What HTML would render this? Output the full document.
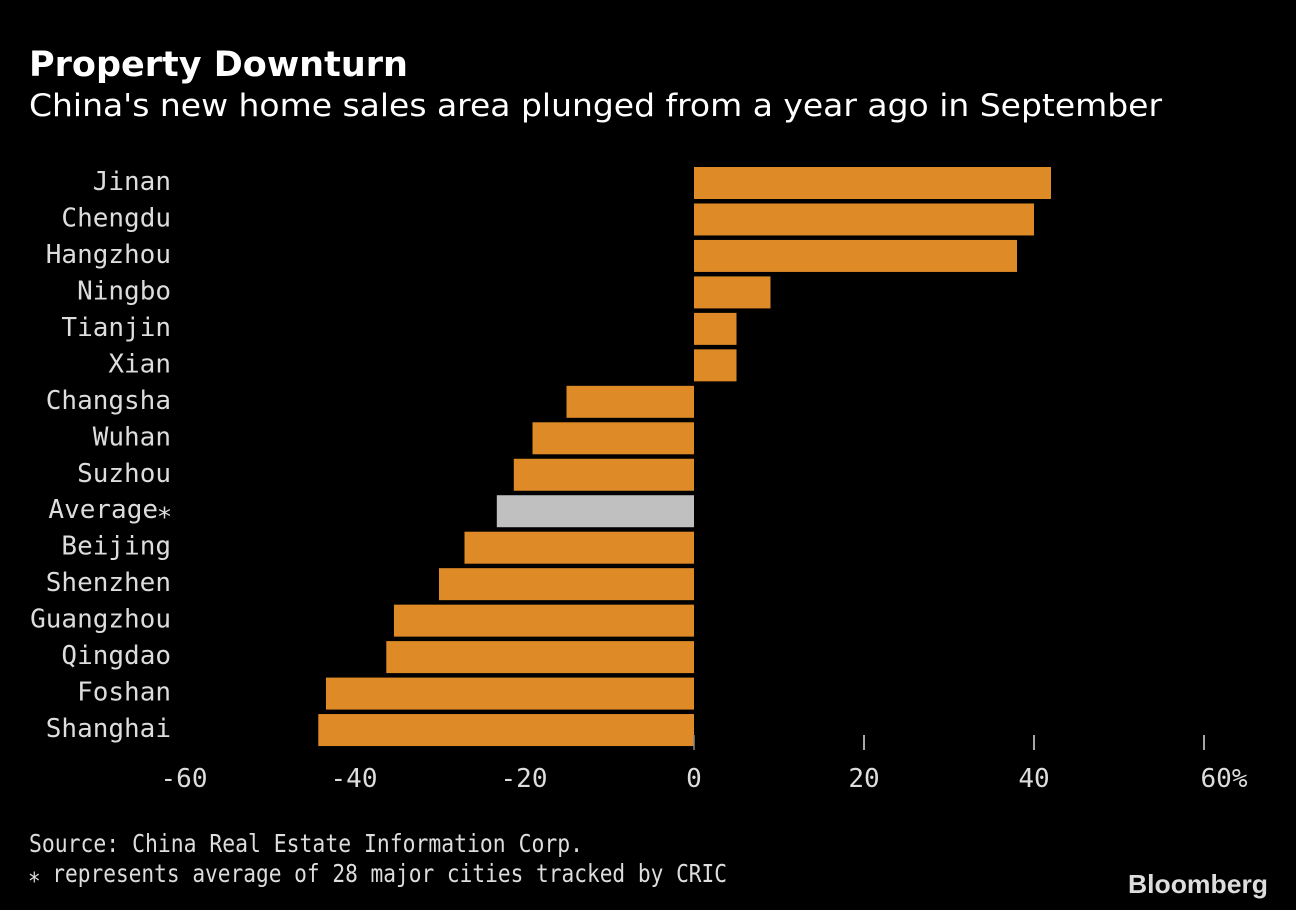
<!DOCTYPE html>
<html><head><meta charset="utf-8"><style>
html,body{margin:0;padding:0;background:#000;}
svg{display:block;font-family:"DejaVu Sans Mono","Liberation Mono",monospace;}
</style></head><body>
<svg width="1296" height="910" viewBox="0 0 1296 910">
<rect width="1296" height="910" fill="#000"/>
<text x="29" y="76" fill="#fff" font-size="35" font-weight="bold" font-family="DejaVu Sans, Liberation Sans, sans-serif">Property Downturn</text>
<text x="29" y="116" fill="#fff" font-size="31" textLength="1133" lengthAdjust="spacingAndGlyphs" font-family="DejaVu Sans, Liberation Sans, sans-serif">China's new home sales area plunged from a year ago in September</text>
<g id="bars"></g>
<g id="labels"></g>
<g id="axis"></g>
<text x="29" y="852" fill="#ddd" font-size="25" textLength="554" lengthAdjust="spacingAndGlyphs">Source: China Real Estate Information Corp.</text>
<text x="29" y="882" fill="#ddd" font-size="25" textLength="698" lengthAdjust="spacingAndGlyphs">⁎ represents average of 28 major cities tracked by CRIC</text>
<text x="1268" y="893" fill="#ddd" font-size="26" font-weight="bold" text-anchor="end" textLength="140" lengthAdjust="spacingAndGlyphs" font-family="Liberation Sans Narrow, Liberation Sans, sans-serif">Bloomberg</text>
</svg>
<script>
const categories=["Jinan","Chengdu","Hangzhou","Ningbo","Tianjin","Xian","Changsha","Wuhan","Suzhou","Average⁎","Beijing","Shenzhen","Guangzhou","Qingdao","Foshan","Shanghai"];
const values=[42,40,38,9,5,5,-15,-19,-21.2,-23.2,-27,-30,-35.3,-36.2,-43.3,-44.2];
const ticks=[-60,-40,-20,0,20,40,60];
const tickLabels=["-60","-40","-20","0","20","40","60%"];
const NS="http://www.w3.org/2000/svg";
const x=v=>694+v*8.5;
const y=i=>167+i*36.47;
const bh=32;
const bars=document.getElementById('bars'),labels=document.getElementById('labels'),axis=document.getElementById('axis');
categories.forEach((c,i)=>{
  const r=document.createElementNS(NS,'rect');
  const v=values[i];
  r.setAttribute('x',Math.min(x(0),x(v)));
  r.setAttribute('y',y(i));
  r.setAttribute('width',Math.abs(x(v)-x(0)));
  r.setAttribute('height',bh);
  r.setAttribute('fill',c.startsWith('Average')?'#c0c0c0':'#de8a26');
  
  
  bars.appendChild(r);
  const t=document.createElementNS(NS,'text');
  t.setAttribute('x',171);
  t.setAttribute('y',y(i)+bh/2+7);
  t.setAttribute('text-anchor','end');
  t.setAttribute('fill','#ddd');
  t.setAttribute('font-size','26');
  t.textContent=c;
  
  
  labels.appendChild(t);
});
ticks.forEach((v,i)=>{
  if(v>=0){
    const l=document.createElementNS(NS,'line');
    l.setAttribute('x1',x(v));l.setAttribute('x2',x(v));
    l.setAttribute('y1',735);l.setAttribute('y2',750);
    l.setAttribute('stroke',v===0?'#888':'#ddd');l.setAttribute('stroke-width',1.5);
    
    
    axis.appendChild(l);
  }
  const t=document.createElementNS(NS,'text');
  t.setAttribute('x',v===60?x(v)+20:x(v));
  t.setAttribute('y',787);
  t.setAttribute('text-anchor','middle');
  t.setAttribute('fill','#ddd');
  t.setAttribute('font-size','26');
  t.textContent=tickLabels[i];
  
  
  axis.appendChild(t);
});
</script>
</body></html>
